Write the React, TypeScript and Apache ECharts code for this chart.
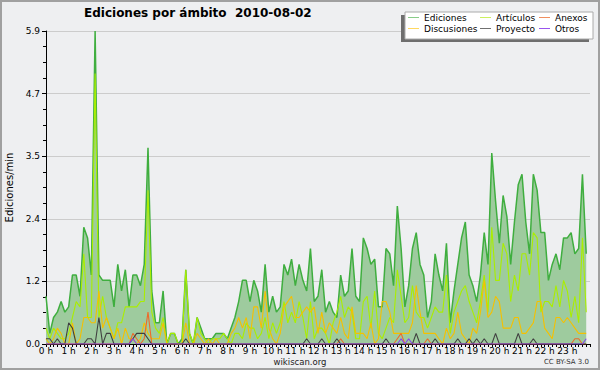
import React, { useEffect, useRef } from "react";
import * as echarts from "echarts";

const TITLE = "Ediciones por ámbito  2010-08-02";
const SERIES_NAMES = ["Ediciones", "Artículos", "Discusiones", "Anexos", "Proyecto", "Otros"];

const ediciones = [
  0.9, 0.2, 0.5, 0.6, 0.8, 0.6, 0.7, 1.3, 1.3, 0.9, 2.2, 2.0, 1.3, 5.9, 1.3, 1.2, 1.2, 1.2, 0.7, 1.5, 1.0, 1.4, 0.7, 1.3,
  1.3, 1.1, 1.5, 3.7, 1.0, 0.4, 0.4, 1.0, 0.0, 0.2, 0.2, 0.0, 0.1, 1.4, 0.2, 0.0, 0.5, 0.3, 0.1, 0.1, 0.1, 0.2, 0.2, 0.2,
  0.1, 0.3, 0.5, 0.8, 1.2, 1.2, 0.8, 1.2, 1.0, 0.6, 1.5, 0.6, 0.9, 0.6, 0.7, 1.5, 1.3, 1.6, 1.1, 1.5, 1.2, 1.0, 1.8, 0.8,
  0.9, 1.4, 0.6, 0.8, 0.6, 0.5, 1.3, 0.9, 1.0, 1.8, 0.9, 0.8, 2.0, 1.8, 1.5, 1.6, 0.7, 0.7, 1.8, 1.7, 1.1, 2.6, 1.8, 0.7,
  1.1, 1.8, 2.1, 1.5, 1.3, 0.5, 0.8, 1.7, 1.3, 1.0, 1.9, 0.4, 1.0, 1.5, 2.0, 2.3, 1.3, 1.1, 0.8, 1.3, 2.1, 1.5, 3.6, 2.7,
  1.9, 2.8, 2.4, 1.5, 2.3, 3.0, 3.2, 2.3, 1.7, 3.2, 2.9, 2.1, 2.1, 1.2, 1.5, 1.7, 1.4, 2.0, 2.0, 2.1, 1.7, 1.8, 3.2, 1.7,
];

const articulos = [
  0.3, 0.1, 0.3, 0.2, 0.1, 0.1, 0.2, 0.5, 0.8, 0.7, 1.7, 0.5, 0.5, 5.1, 0.5, 0.9, 0.5, 0.3, 0.1, 0.4, 0.4, 0.7, 0.7, 0.7,
  0.7, 0.8, 0.8, 2.9, 0.6, 0.3, 0.2, 0.5, 0.0, 0.2, 0.2, 0.0, 0.0, 1.4, 0.2, 0.0, 0.5, 0.2, 0.1, 0.0, 0.1, 0.1, 0.1, 0.2,
  0.1, 0.0, 0.2, 0.2, 0.1, 0.4, 0.3, 0.3, 0.1, 0.2, 0.5, 0.1, 0.4, 0.2, 0.4, 0.8, 0.4, 0.6, 0.4, 0.8, 0.5, 0.1, 0.8, 0.1,
  0.3, 0.3, 0.2, 0.0, 0.4, 0.6, 0.9, 0.5, 0.7, 0.6, 0.1, 0.1, 0.8, 0.9, 0.3, 1.0, 0.2, 0.1, 0.3, 0.5, 0.4, 1.4, 0.9, 0.4,
  0.5, 1.1, 0.6, 0.5, 0.5, 0.3, 0.5, 0.7, 0.6, 0.6, 1.3, 0.2, 0.6, 0.8, 1.0, 1.1, 0.8, 0.6, 0.4, 0.8, 1.3, 0.6, 2.2, 1.2,
  1.2, 1.9, 1.7, 0.8, 1.3, 1.0, 1.7, 1.7, 1.3, 2.1, 2.0, 0.6, 0.8, 0.8, 0.7, 1.1, 0.7, 1.2, 1.0, 0.5, 0.9, 0.4, 2.0, 0.6,
];

const discusiones = [
  0.1, 0.0, 0.1, 0.3, 0.2, 0.0, 0.0, 0.4, 0.0, 0.1, 0.5, 0.5, 0.4, 0.4, 1.0, 0.3, 0.5, 0.3, 0.1, 0.3, 0.0, 0.3, 0.1, 0.1,
  0.0, 0.1, 0.4, 0.2, 0.1, 0.1, 0.1, 0.4, 0.0, 0.0, 0.0, 0.0, 0.0, 0.4, 0.0, 0.0, 0.2, 0.1, 0.0, 0.1, 0.0, 0.1, 0.0, 0.0,
  0.0, 0.2, 0.3, 0.5, 0.3, 0.5, 0.1, 0.7, 0.7, 0.3, 1.0, 0.3, 0.1, 0.0, 0.2, 0.7, 0.8, 0.9, 0.5, 0.5, 0.6, 0.7, 0.6, 0.7,
  0.2, 0.6, 0.2, 0.4, 0.3, 0.2, 0.5, 0.2, 0.1, 0.7, 0.2, 0.2, 0.2, 0.1, 0.4, 0.0, 0.1, 0.8, 0.8, 0.6, 0.2, 0.2, 0.2, 0.2,
  0.2, 0.4, 1.1, 0.6, 0.2, 0.2, 0.2, 0.2, 0.1, 0.0, 0.3, 0.1, 0.2, 0.6, 0.2, 0.1, 0.0, 0.3, 0.2, 0.6, 1.2, 0.5, 0.6, 0.9,
  0.8, 0.3, 0.3, 0.3, 0.5, 0.5, 0.2, 0.2, 0.3, 0.4, 0.8, 0.8, 0.3, 0.2, 0.1, 0.5, 0.5, 0.4, 0.5, 0.4, 0.3, 0.2, 0.2, 0.2,
];

const anexos = [
  0, 0, 0, 0, 0, 0, 0, 0, 0, 0, 0, 0, 0, 0, 0, 0, 0, 0, 0, 0, 0, 0, 0, 0.2,
  0.1, 0, 0.1, 0.6, 0, 0, 0, 0, 0, 0, 0, 0, 0, 0, 0, 0, 0, 0, 0, 0, 0, 0, 0, 0,
  0, 0, 0, 0, 0, 0, 0, 0, 0, 0, 0, 0, 0, 0, 0, 0, 0, 0, 0, 0, 0, 0, 0, 0,
  0, 0, 0, 0, 0, 0, 0.1, 0, 0, 0, 0, 0, 0, 0, 0, 0, 0, 0, 0, 0, 0, 0.1, 0.2, 0,
  0, 0, 0, 0, 0, 0.1, 0, 0, 0, 0, 0, 0, 0, 0, 0, 0, 0, 0, 0, 0, 0, 0, 0, 0,
  0, 0, 0, 0, 0, 0, 0, 0, 0, 0, 0, 0, 0, 0, 0, 0, 0, 0, 0, 0, 0.1, 0.1, 0, 0,
];

const proyecto = [
  0.1, 0.1, 0, 0.1, 0, 0, 0.4, 0.3, 0, 0, 0, 0.1, 0.1, 0, 0.5, 0, 0.2, 0.2, 0, 0, 0, 0, 0, 0.1,
  0.2, 0.2, 0.2, 0.1, 0, 0, 0, 0, 0, 0, 0, 0, 0, 0.1, 0, 0, 0, 0, 0, 0, 0, 0, 0, 0,
  0, 0, 0, 0, 0, 0, 0, 0, 0, 0, 0, 0, 0, 0, 0, 0, 0, 0, 0, 0, 0, 0.1, 0, 0,
  0, 0.1, 0, 0, 0, 0.1, 0, 0, 0, 0, 0, 0, 0, 0, 0, 0, 0, 0, 0.1, 0, 0, 0, 0, 0,
  0, 0, 0.2, 0, 0, 0, 0, 0.1, 0, 0, 0, 0, 0, 0.1, 0, 0, 0.1, 0, 0.1, 0, 0.1, 0, 0, 0.2,
  0, 0, 0, 0, 0, 0.2, 0, 0, 0, 0.1, 0, 0, 0, 0, 0, 0, 0, 0, 0, 0, 0, 0, 0, 0,
];

const otros = [
  0, 0, 0, 0, 0, 0, 0, 0, 0, 0, 0, 0, 0, 0, 0, 0, 0, 0, 0, 0, 0, 0, 0, 0.1,
  0, 0, 0, 0, 0, 0, 0, 0, 0, 0, 0, 0, 0, 0, 0, 0, 0, 0, 0, 0, 0, 0, 0, 0,
  0, 0, 0, 0, 0, 0, 0, 0, 0, 0, 0, 0, 0, 0, 0, 0, 0, 0, 0, 0, 0, 0, 0, 0,
  0, 0, 0, 0, 0, 0, 0, 0, 0, 0, 0, 0, 0, 0, 0, 0, 0, 0, 0, 0, 0, 0, 0.1, 0,
  0.1, 0, 0, 0, 0, 0, 0, 0, 0, 0, 0, 0, 0, 0, 0, 0, 0, 0, 0, 0, 0, 0, 0, 0,
  0, 0, 0, 0, 0, 0, 0, 0, 0, 0, 0, 0, 0, 0, 0, 0, 0, 0, 0, 0, 0, 0, 0, 0.1,
];

const Y_MAX = 5.9;
const Y_STEP = 1.18;

const LINE_COLORS = ["#3fae3f", "#aaee00", "#f5c000", "#ee6a2a", "#404040", "#8844ee"];
const LEGEND_COLORS = ["#88cc88", "#ccf060", "#f09060", "#ffd860", "#707070", "#9955ee"];

const FONT = "DejaVu Sans, sans-serif";

export default function App() {
  const ref = useRef<HTMLDivElement>(null);

  useEffect(() => {
    if (!ref.current) return;
    const chart = echarts.init(ref.current, undefined, { renderer: "svg" });
    const allData = [ediciones, articulos, discusiones, anexos, proyecto, otros];
    const toPts = (arr: number[]) => arr.map((v, i) => [i / 6, v]);

    const series: any[] = allData.map((arr, k) => ({
      name: SERIES_NAMES[k],
      type: "line",
      data: toPts(arr),
      symbol: "none",
      color: LINE_COLORS[k],
      lineStyle: { color: LINE_COLORS[k], width: k === 0 ? 1.5 : 1.1 },
      areaStyle: k === 0 ? { color: "#9ecb9e", opacity: 1 } : undefined,
      z: 2 + k,
      silent: true,
    }));

    const legendPos: [number, number, number][] = [
      [0, 408, 13],
      [2, 408, 24],
      [1, 480, 13],
      [4, 480, 24],
      [3, 539, 13],
      [5, 539, 24],
    ];
    const legendColorFor = (k: number) =>
      ({ 0: LEGEND_COLORS[0], 1: LEGEND_COLORS[1], 2: LEGEND_COLORS[3], 3: LEGEND_COLORS[2], 4: LEGEND_COLORS[4], 5: LEGEND_COLORS[5] } as any)[k];

    const legends = legendPos.map(([k, left, top]) => ({
      show: true,
      left,
      top,
      padding: 0,
      z: 20,
      selectedMode: false,
      icon: "rect",
      itemWidth: 11,
      itemHeight: 1,
      textStyle: { fontSize: 9, color: "#000", fontFamily: FONT },
      data: [{ name: SERIES_NAMES[k], itemStyle: { color: legendColorFor(k) } }],
    }));

    chart.setOption({
      animation: false,
      backgroundColor: "#eeeff1",
      title: {
        text: TITLE,
        left: 84,
        top: 7,
        padding: 0,
        textStyle: { fontSize: 12, fontWeight: "bold", color: "#000", fontFamily: FONT },
      },
      legend: legends,
      grid: { left: 46, right: 10, top: 31, bottom: 26, containLabel: false, outerBoundsMode: "none" },
      xAxis: {
        type: "value",
        min: 0,
        max: 24,
        interval: 1,
        axisLine: { show: true, lineStyle: { color: "#000", width: 1 } },
        axisTick: { show: true, length: 3, lineStyle: { color: "#000" } },
        minorTick: { show: true, splitNumber: 6, length: 3, lineStyle: { color: "#000" } },
        splitLine: { show: false },
        axisLabel: {
          fontSize: 9,
          color: "#000",
          fontFamily: FONT,
          margin: 2,
          formatter: (v: number) => (v < 24 ? `${v} h` : ""),
        },
      },
      yAxis: {
        type: "value",
        min: 0,
        max: Y_MAX,
        interval: Y_STEP,
        name: "Ediciones/min",
        nameLocation: "middle",
        nameGap: 31,
        nameRotate: 90,
        nameTextStyle: { fontSize: 10, color: "#000", fontFamily: FONT },
        axisLine: { show: true, lineStyle: { color: "#000", width: 1 } },
        axisTick: { show: true, length: 4, lineStyle: { color: "#000" } },
        minorTick: { show: true, splitNumber: 4, length: 3, lineStyle: { color: "#000" } },
        splitLine: { show: true, lineStyle: { color: "#cccccc", width: 1 } },
        axisLabel: {
          fontSize: 9,
          color: "#000",
          fontFamily: FONT,
          margin: 6,
          formatter: (v: number) => v.toFixed(1),
        },
      },
      graphic: [
        { type: "rect", z: 8, silent: true, shape: { x: 401, y: 15, width: 188, height: 27 }, style: { fill: "#6e6e6e" } },
        { type: "rect", z: 9, silent: true, shape: { x: 405, y: 12, width: 188, height: 27 }, style: { fill: "#ffffff", stroke: "#aaaaaa", lineWidth: 1 } },
        { type: "text", z: 9, silent: true, x: 300, y: 362, style: { text: "wikiscan.org", fontSize: 8.5, fill: "#222", fontFamily: FONT, align: "center", verticalAlign: "middle" } },
        { type: "text", z: 9, silent: true, x: 589, y: 362, style: { text: "CC BY-SA 3.0", fontSize: 7, fill: "#333", fontFamily: FONT, align: "right", verticalAlign: "middle" } },
        { type: "rect", z: 30, silent: true, shape: { x: 1, y: 1, width: 598, height: 368 }, style: { fill: "none", stroke: "#a0a0a0", lineWidth: 2 } },
      ],
      series,
    });
    return () => chart.dispose();
  }, []);

  return <div ref={ref} style={{ position: "fixed", left: 0, top: 0, width: 600, height: 370 }} />;
}
